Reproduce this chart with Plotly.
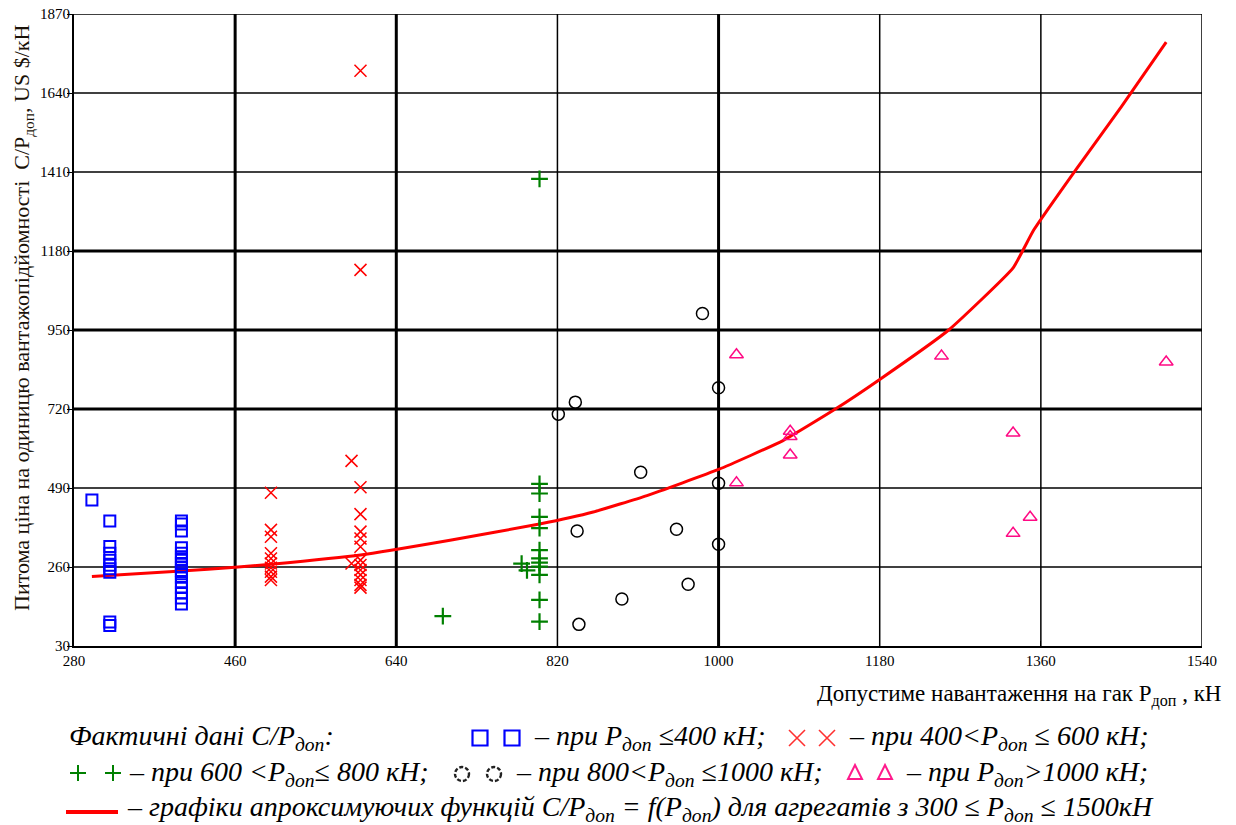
import plotly.graph_objects as go

# ---------------- data ----------------
sq_x = [300, 320, 320, 320, 320, 320, 320, 320, 320, 320,
        400, 400, 400, 400, 400, 400, 400, 400, 400, 400, 400, 400, 400, 400, 400, 400, 400]
sq_y = [455, 394, 320, 300, 280, 265, 255, 245, 100, 90,
        394, 385, 365, 316, 300, 290, 280, 270, 260, 250, 240, 230, 215, 200, 185, 170, 152]

x_x = [500, 500, 500, 500, 500, 500, 500, 500, 500, 500,
       600, 600, 600, 600, 600, 600, 600, 600, 600, 600, 600, 600, 600, 600,
       590, 590]
x_y = [476, 368, 348, 300, 285, 270, 258, 246, 232, 222,
       1705, 1125, 492, 414, 363, 343, 319, 280, 266, 251, 237, 222, 208, 200,
       569, 270]

pl_x = [800, 800, 800, 800, 800, 800, 800, 800, 800, 800, 800, 800, 780, 786, 692]
pl_y = [1390, 502, 474, 406, 373, 309, 285, 273, 261, 237, 164, 101, 270, 250, 117]

ci_x = [982, 1000, 840, 821, 913, 1000, 842, 953, 1000, 966, 892, 844]
ci_y = [998, 782, 740, 705, 536, 504, 365, 370, 326, 210, 167, 93]

tr_x = [1020, 1020, 1249, 1500, 1080, 1080, 1080, 1329, 1348, 1329]
tr_y = [878, 505, 874, 857, 655, 640, 586, 650, 405, 358]

fit_x = [300, 400, 460, 500, 600, 700, 800, 860, 920, 1000, 1072, 1130, 1180,
         1257, 1329, 1352, 1400, 1450, 1500]
fit_y = [232, 248, 259, 268, 295, 338, 385, 420, 468, 544, 628, 719, 806,
         950, 1131, 1241, 1420, 1600, 1788]

x_ticks = [280, 460, 640, 820, 1000, 1180, 1360, 1540]
y_ticks = [30, 260, 490, 720, 950, 1180, 1410, 1640, 1870]
thick_x = [460, 640, 1000]
thick_y = [720, 950, 1180]

# ---------------- figure ----------------
# the page body has an 8px margin, so the figure is 8px smaller and
# page coordinates are figure coordinates + 8
OFF = 8
W, H = 1236 - OFF, 825 - OFF
L, R, T, B = 74 - OFF, 34, 14 - OFF, 179
pw, ph = W - L - R, H - T - B
SERIF = "Liberation Serif, Times New Roman, serif"


def px(xp):  # page pixel -> paper fraction
    return (xp - OFF - L) / pw


def py(yp):
    return (H - B - (yp - OFF)) / ph


fig = go.Figure()

fig.add_trace(go.Scatter(x=fit_x, y=fit_y, mode="lines", line_shape="spline",
                         line=dict(color="#ff0000", width=3, smoothing=0.4), showlegend=False))
fig.add_trace(go.Scatter(x=sq_x, y=sq_y, mode="markers", showlegend=False,
                         marker=dict(symbol="square-open", size=11, color="#0000ff",
                                     line=dict(width=2, color="#0000ff"))))
fig.add_trace(go.Scatter(x=x_x, y=x_y, mode="markers", showlegend=False,
                         marker=dict(symbol="x-thin-open", size=12, color="#ff0000",
                                     line=dict(width=1.5, color="#ff0000"))))
fig.add_trace(go.Scatter(x=pl_x, y=pl_y, mode="markers", showlegend=False,
                         marker=dict(symbol="cross-thin-open", size=12, color="#008000",
                                     line=dict(width=2.2, color="#008000"))))
fig.add_trace(go.Scatter(x=ci_x, y=ci_y, mode="markers", showlegend=False,
                         marker=dict(symbol="circle-open", size=12, color="#000000",
                                     line=dict(width=1.5, color="#000000"))))
fig.add_trace(go.Scatter(x=tr_x, y=tr_y, mode="markers", showlegend=False,
                         marker=dict(symbol="triangle-up-open", size=12, color="#ff0a84",
                                     line=dict(width=1.5, color="#ff0a84"))))

# grid lines (thick/thin as in the original)
for xv in x_ticks[1:]:
    fig.add_shape(type="line", xref="x", yref="paper", x0=xv, x1=xv, y0=0, y1=1,
                  line=dict(color="black", width=3 if xv in thick_x else 1.5), layer="below")
for yv in y_ticks[1:]:
    fig.add_shape(type="line", xref="paper", yref="y", x0=0, x1=1, y0=yv, y1=yv,
                  line=dict(color="black", width=3 if yv in thick_y else 1.5), layer="below")

tickfont = dict(family=SERIF, size=15, color="black")
fig.update_xaxes(range=[280, 1540], tickvals=x_ticks, ticktext=[str(v) for v in x_ticks],
                 showgrid=False, zeroline=False, showline=True, linecolor="black", linewidth=2,
                 ticks="inside", ticklen=5, tickcolor="black", tickfont=tickfont,
                 ticklabeloverflow="allow")
fig.update_yaxes(range=[30, 1870], tickvals=y_ticks, ticktext=[str(v) for v in y_ticks],
                 showgrid=False, zeroline=False, showline=True, linecolor="black", linewidth=2,
                 ticks="outside", ticklen=5, tickcolor="black", tickfont=tickfont,
                 ticklabelstandoff=-6, ticklabeloverflow="allow")

ann = []
# axis titles
ann.append(dict(text="Допустиме навантаження на гак P<sub>доп</sub> , кН", xref="paper", yref="paper",
                x=px(1223), y=py(695), xanchor="right", yanchor="middle", showarrow=False,
                font=dict(family=SERIF, size=23, color="black")))
ann.append(dict(text="Питома ціна на одиницю вантажопідйомності  C/P<sub>доп</sub>, US $/кН",
                xref="paper", yref="paper", x=px(23), y=py(318), xanchor="center", yanchor="middle",
                textangle=-90, showarrow=False,
                font=dict(family=SERIF, size=22, color="#1a1208")))


def seg(text, xp, yp, color="black", size=28):
    ann.append(dict(text=text, xref="paper", yref="paper", x=px(xp), y=py(yp),
                    xanchor="left", yanchor="middle", showarrow=False,
                    font=dict(family=SERIF, size=size, color=color, style="italic")))


def legmark(kind, cx, cy, color):
    base = dict(xref="paper", yref="paper", xsizemode="pixel", ysizemode="pixel",
                xanchor=px(cx), yanchor=py(cy))
    if kind == "square":
        fig.add_shape(type="rect", x0=-7.5, x1=7.5, y0=-7.5, y1=7.5,
                      line=dict(color=color, width=2.2), **base)
    elif kind == "circle":
        fig.add_shape(type="circle", x0=-7, x1=7, y0=-7, y1=7,
                      line=dict(color=color, width=2.4, dash="4px,2px"), **base)
    elif kind == "x":
        fig.add_shape(type="path", path="M-8,-8L8,8M-8,8L8,-8",
                      line=dict(color=color, width=1.6), **base)
    elif kind == "plus":
        fig.add_shape(type="path", path="M-8,0L8,0M0,-8L0,8",
                      line=dict(color=color, width=2), **base)
    elif kind == "tri":
        fig.add_shape(type="path", path="M-7,-6L7,-6L0,8Z",
                      line=dict(color=color, width=2), **base)


y1, y2, y3 = 738, 773, 808
seg("Фактичні дані C/P<sub>доп</sub>:", 67, y1)
legmark("square", 480, 738, "#0000ff")
legmark("square", 512, 738, "#0000ff")
seg("– при P<sub>доп</sub> ≤400 кН;", 532, y1)
legmark("x", 797, 738, "#ff3030")
legmark("x", 827, 738, "#ff3030")
seg("– при 400&lt;P<sub>доп</sub> ≤ 600 кН;", 847, y1)
legmark("plus", 78, 773, "#008000")
legmark("plus", 113, 773, "#008000")
seg("– при 600 &lt;P<sub>доп</sub>≤ 800 кН;", 127, y2)
legmark("circle", 462, 774, "#222222")
legmark("circle", 494, 774, "#222222")
seg("– при 800&lt;P<sub>доп</sub> ≤1000 кН;", 514, y2)
legmark("tri", 855, 773, "#ff1a8c")
legmark("tri", 885, 773, "#ff1a8c")
seg("– при P<sub>доп</sub>&gt;1000 кН;", 904, y2)
seg("– графіки апроксимуючих функцій C/P<sub>доп</sub> = f(P<sub>доп</sub>) для агрегатів з 300 ≤ P<sub>доп</sub> ≤ 1500кН",
    125, y3)

fig.add_shape(type="line", xref="paper", yref="paper", x0=px(66), x1=px(118), y0=py(812), y1=py(812),
              line=dict(color="#ff0000", width=4))

fig.update_layout(width=W, height=H, margin=dict(l=L, r=R, t=T, b=B, autoexpand=False),
                  paper_bgcolor="white", plot_bgcolor="white", annotations=ann,
                  showlegend=False)

fig.write_html("out.html")
